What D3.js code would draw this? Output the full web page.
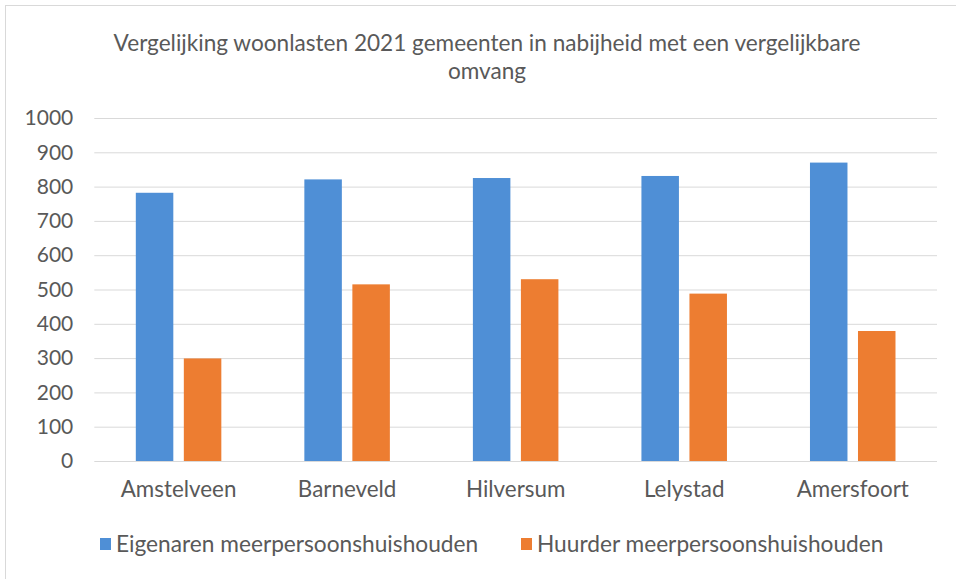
<!DOCTYPE html>
<html><head><meta charset="utf-8">
<script src="https://cdn.jsdelivr.net/npm/d3@7/dist/d3.min.js"></script>
<style>body{margin:0;background:#fff}svg{display:block}text{font-family:Lato,"Open Sans",sans-serif;fill:#595959}</style>
</head><body><svg id="c" width="956" height="579"></svg>
<script>
const categories = ["Amstelveen","Barneveld","Hilversum","Lelystad","Amersfoort"];
const seriesNames = ["Eigenaren meerpersoonshuishouden","Huurder meerpersoonshuishouden"];
const eigenaren = [782, 821, 825, 831, 870];
const huurder = [299, 515, 530, 488, 379];
const yTicks = [0,100,200,300,400,500,600,700,800,900,1000];
const colors = ["#4f8fd6","#ed7d31"];
const titleLines = ["Vergelijking woonlasten 2021 gemeenten in nabijheid met een vergelijkbare","omvang"];

(function(){
const svg = d3.select("#c");
svg.append("rect").attr("x",5.5).attr("y",5.5).attr("width",960).attr("height",600).attr("fill","#fff").attr("stroke","#d9d9d9");

const pL=94.3, pR=937, pT=118, pB=461;
const x = d3.scaleBand().domain(categories).range([pL,pR]).paddingInner(0.4926).paddingOuter(0.2463);
const xs = d3.scaleBand().domain([0,1]).range([0,x.bandwidth()]).paddingInner(0.219);
const y = d3.scaleLinear().domain([0,1000]).range([pB,pT]);

const ya = svg.append("g").attr("transform",`translate(${pL},0)`)
  .call(d3.axisLeft(y).tickValues(yTicks).tickSize(-(pR-pL)).tickPadding(21).tickFormat(d3.format("d")));
ya.select(".domain").remove();
ya.selectAll(".tick line").attr("stroke","#d9d9d9").attr("stroke-width",1);
ya.selectAll(".tick text").attr("font-size",21).style("fill","#595959");

const data = [eigenaren, huurder];
categories.forEach((c,i)=>{
  data.forEach((s,j)=>{
    svg.append("rect").attr("x",x(c)+xs(j)).attr("width",xs.bandwidth())
      .attr("y",y(s[i])).attr("height",y(0)-y(s[i])).attr("fill",colors[j]);
  });
});

const xa = svg.append("g").attr("transform",`translate(0,${pB})`)
  .call(d3.axisBottom(x).tickSize(0).tickPadding(20));
xa.select(".domain").remove();
xa.selectAll(".tick text").attr("font-size",22.4).style("fill","#595959");

svg.append("g").selectAll("text").data(titleLines).join("text")
  .attr("x",487).attr("y",(d,i)=>51+i*28).attr("text-anchor","middle").attr("font-size",22.6).text(d=>d);

const leg = [{x:100,tx:116},{x:521,tx:537}];
seriesNames.forEach((n,j)=>{
  svg.append("rect").attr("x",leg[j].x).attr("y",538).attr("width",11).attr("height",12).attr("fill",colors[j]);
  svg.append("text").attr("x",leg[j].tx).attr("y",552).attr("font-size",22.7).text(n);
});
})();
</script></body></html>
